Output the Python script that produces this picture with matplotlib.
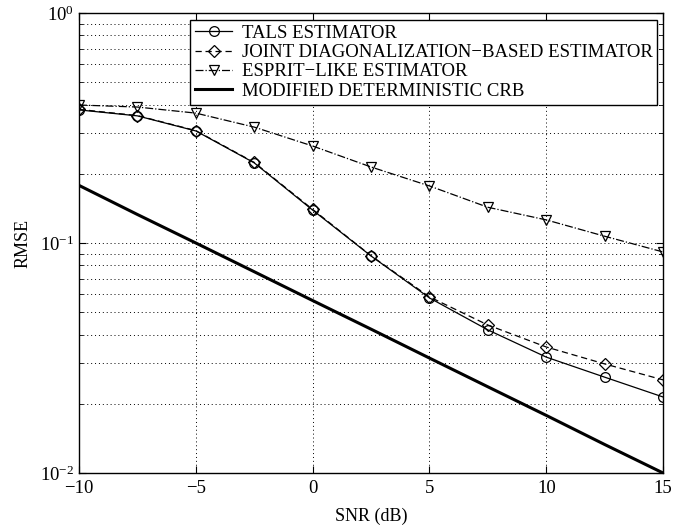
import matplotlib
matplotlib.use("Agg")
import matplotlib.pyplot as plt
from matplotlib.ticker import LogLocator, NullFormatter

plt.rcParams["font.family"] = ["Liberation Serif", "DejaVu Serif"]
plt.rcParams["mathtext.fontset"] = "stix"

snr = [-10, -7.5, -5, -2.5, 0, 2.5, 5, 7.5, 10, 12.5, 15]

tals  = [0.379, 0.357, 0.307, 0.223, 0.139, 0.0878, 0.0577, 0.0419, 0.0319, 0.0261, 0.0214]
joint = [0.381, 0.358, 0.308, 0.224, 0.140, 0.0880, 0.0583, 0.0440, 0.0353, 0.0298, 0.0254]
esprit = [0.398, 0.390, 0.367, 0.319, 0.264, 0.214, 0.177, 0.143, 0.126, 0.107, 0.0914]
crb   = [0.178, 0.133, 0.100, 0.075, 0.0562, 0.0422, 0.0316, 0.0237, 0.0178, 0.0133, 0.0100]

labels = ["TALS ESTIMATOR",
          "JOINT DIAGONALIZATION\u2212BASED ESTIMATOR",
          "ESPRIT\u2212LIKE ESTIMATOR",
          "MODIFIED DETERMINISTIC CRB"]

fig = plt.figure(figsize=(6.98, 5.32), dpi=100)
ax = fig.add_axes([0.1132, 0.1109, 0.8368, 0.8647])

ax.semilogy(snr, tals, "k-o", lw=0.9, ms=7, mfc="none", mew=0.9, label=labels[0])
ax.semilogy(snr, joint, "k--D", lw=0.9, ms=6, mfc="none", mew=0.9,
            dashes=(5, 3), label=labels[1])
ax.semilogy(snr, esprit, "k-.v", lw=0.9, ms=7.5, mfc="none", mew=0.9, label=labels[2])
ax.semilogy(snr, crb, "k-", lw=2.2, label=labels[3])

ax.set_xlim(-10, 15)
ax.set_ylim(1e-2, 1e0)
ax.set_xticks([-10, -5, 0, 5, 10, 15])
ax.yaxis.set_major_locator(LogLocator(base=10, numticks=5))
ax.yaxis.set_minor_locator(LogLocator(base=10, subs=range(2, 10), numticks=20))
ax.yaxis.set_minor_formatter(NullFormatter())

ax.grid(True, which="major", axis="both", ls=(0, (1, 3)), color="k", lw=0.7)
ax.grid(True, which="minor", axis="y", ls=(0, (1, 3)), color="k", lw=0.7)

ax.tick_params(which="both", direction="in", top=True, right=True, labelsize=13.5)
ax.tick_params(axis="x", pad=5)
ax.tick_params(which="major", length=5)
ax.tick_params(which="minor", length=3)
for s in ax.spines.values():
    s.set_linewidth(1.0)

ax.set_xlabel("SNR (dB)", fontsize=13, labelpad=8)
ax.set_ylabel("RMSE", fontsize=13, labelpad=6)

leg = ax.legend(loc="upper right", bbox_to_anchor=(0.99, 0.985), borderaxespad=0,
                fontsize=13.5, fancybox=False, framealpha=1, edgecolor="k",
                handlelength=2.0, labelspacing=0.12, borderpad=0.25, handletextpad=0.5)
leg.get_frame().set_linewidth(1.0)

fig.savefig("out.png", dpi=100)
